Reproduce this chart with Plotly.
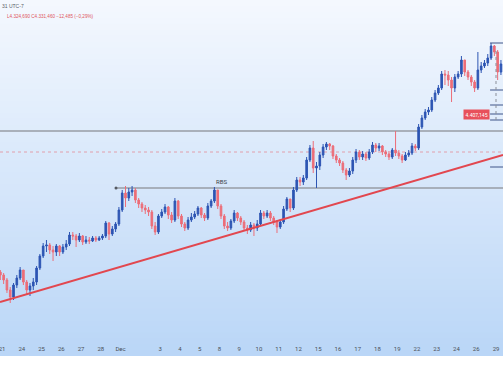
import plotly.graph_objects as go

# ---- data (XAUUSD, 4h candles) ----
day_labels = ["21", "24", "25", "26", "27", "28", "Dec", "3", "4", "5", "8", "9", "10",
              "11", "12", "15", "16", "17", "18", "19", "22", "23", "24", "26", "29"]
day_ticks = [0, 1, 2, 3, 4, 5, 6, 8, 9, 10, 11, 12, 13, 14, 15, 16, 17, 18, 19, 20,
             21, 22, 23, 24, 25]
candles_per_day = 6
first_candle = -1          # one candle of the previous session is visible at left

first_open = 4092
close = [4086,
         4076, 4056, 4042, 4066, 4080, 4096,
         4072, 4056, 4064, 4072, 4100, 4124,
         4144, 4146, 4136, 4132, 4144, 4132,
         4142, 4148, 4166, 4164, 4156, 4164,
         4152, 4156, 4154, 4160, 4156, 4160,
         4164, 4190, 4168, 4178, 4188, 4216,
         4250, 4240, 4252, 4256, 4236, 4228,
         4220, 4216, 4212, 4184, 4172, 4204,
         4212, 4222, 4206, 4196, 4234, 4204,
         4188, 4180, 4196, 4202, 4208, 4220,
         4206, 4200, 4224, 4234, 4256, 4224,
         4204, 4184, 4180, 4194, 4210, 4200,
         4192, 4180, 4176, 4186, 4180, 4188,
         4210, 4204, 4210, 4200, 4192, 4182,
         4192, 4218, 4238, 4220, 4256, 4276,
         4272, 4280, 4316, 4340, 4300, 4304,
         4326, 4342, 4348, 4344, 4324, 4316,
         4310, 4296, 4286, 4294, 4316, 4332,
         4322, 4328, 4320, 4332, 4346, 4340,
         4344, 4332, 4328, 4322, 4336, 4330,
         4324, 4316, 4326, 4330, 4344, 4340,
         4382, 4400, 4412, 4416, 4436, 4450,
         4460, 4488, 4486, 4476, 4460, 4482,
         4488, 4516, 4492, 4482, 4472, 4460,
         4496, 4504, 4510, 4520, 4544, 4532,
         4492, 4508]
high = [4096,
        4090, 4080, 4062, 4070, 4086, 4102,
        4096, 4076, 4070, 4080, 4104, 4128,
        4150, 4156, 4150, 4144, 4148, 4146,
        4148, 4156, 4172, 4172, 4168, 4170,
        4166, 4164, 4162, 4164, 4164, 4164,
        4168, 4194, 4192, 4184, 4192, 4222,
        4256, 4264, 4260, 4264, 4260, 4240,
        4232, 4226, 4222, 4216, 4192, 4208,
        4218, 4228, 4224, 4212, 4240, 4236,
        4208, 4192, 4202, 4210, 4214, 4224,
        4222, 4210, 4230, 4238, 4262, 4256,
        4228, 4208, 4192, 4198, 4216, 4212,
        4204, 4196, 4186, 4192, 4190, 4196,
        4216, 4214, 4216, 4214, 4204, 4196,
        4198, 4224, 4242, 4238, 4262, 4282,
        4282, 4286, 4322, 4346, 4354, 4312,
        4332, 4348, 4352, 4350, 4346, 4328,
        4320, 4314, 4300, 4300, 4322, 4338,
        4336, 4334, 4332, 4338, 4352, 4350,
        4350, 4346, 4336, 4334, 4340, 4374,
        4336, 4328, 4332, 4336, 4350, 4348,
        4388, 4406, 4418, 4422, 4442, 4456,
        4466, 4494, 4496, 4494, 4482, 4488,
        4494, 4524, 4516, 4496, 4486, 4476,
        4532, 4512, 4516, 4528, 4550, 4546,
        4536, 4516]
low = [4076,
       4068, 4050, 4030, 4036, 4060, 4076,
       4066, 4048, 4044, 4056, 4066, 4096,
       4120, 4132, 4128, 4114, 4124, 4124,
       4128, 4136, 4144, 4156, 4142, 4152,
       4146, 4148, 4148, 4152, 4152, 4154,
       4156, 4160, 4156, 4164, 4172, 4184,
       4212, 4222, 4234, 4244, 4230, 4220,
       4212, 4208, 4204, 4178, 4166, 4168,
       4200, 4208, 4198, 4190, 4192, 4198,
       4182, 4174, 4176, 4192, 4198, 4204,
       4200, 4194, 4196, 4220, 4230, 4218,
       4198, 4178, 4174, 4176, 4190, 4194,
       4186, 4174, 4168, 4172, 4164, 4174,
       4184, 4198, 4200, 4194, 4186, 4170,
       4178, 4188, 4214, 4212, 4216, 4252,
       4264, 4266, 4276, 4312, 4290, 4260,
       4296, 4320, 4336, 4336, 4318, 4310,
       4304, 4290, 4276, 4282, 4288, 4310,
       4316, 4316, 4314, 4316, 4328, 4332,
       4334, 4326, 4322, 4316, 4318, 4324,
       4318, 4310, 4314, 4322, 4326, 4334,
       4336, 4378, 4396, 4406, 4412, 4432,
       4446, 4456, 4466, 4464, 4432, 4452,
       4478, 4482, 4484, 4476, 4464, 4452,
       4456, 4490, 4500, 4504, 4516, 4524,
       4476, 4486]

resistance_level = 4374
last_price = 4332
rbs_level = 4260
rbs_start_day = 5.77
trend_start = (-0.101, 4032)
trend_end = (25.354, 4326)
marker_levels = [4550, 4456, 4426, 4408, 4396, 4302]
marker_label_price = 4407
marker_label_text = "4.407,145"
header_line1 = "31 UTC-7"
header_line2 = "L4.324,690 C4.331,460 \u221212,485 (\u22120,29%)"

# ---- derived ----
opens = [first_open] + close[:-1]
xs = [(k + 0.5) / candles_per_day for k in range(first_candle, first_candle + len(close))]

X_RANGE = [-0.101, 25.354]
Y_RANGE = [3956, 4636]
PLOT_H = 340

fig = go.Figure()
fig.add_trace(go.Candlestick(
    x=xs, open=opens, high=high, low=low, close=close,
    increasing=dict(line=dict(color="#2d55b3", width=1), fillcolor="#2d55b3"),
    decreasing=dict(line=dict(color="#ec6d78", width=1), fillcolor="#ec6d78"),
    whiskerwidth=0, hoverinfo="skip", showlegend=False,
))

shapes = []
# background gradient (plot area + time-axis strip); stacked bands, no seams
top = (244, 248, 254)
bot = (186, 214, 247)
n_bands = 60
bottom_px = 356
for i in range(n_bands):
    p0 = bottom_px * i / n_bands
    t = (i + 0.5) / n_bands
    c = tuple(round(top[j] + (bot[j] - top[j]) * t) for j in range(3))
    shapes.append(dict(type="rect", xref="paper", yref="paper", x0=-0.01, x1=1.01,
                       y0=(PLOT_H - bottom_px) / PLOT_H, y1=(PLOT_H - p0) / PLOT_H,
                       fillcolor="rgb(%d,%d,%d)" % c, line=dict(width=0), layer="below"))

shapes.append(dict(type="line", xref="x", yref="y", x0=X_RANGE[0], x1=X_RANGE[1],
                   y0=resistance_level, y1=resistance_level,
                   line=dict(color="#979ca5", width=1.5), layer="below"))
shapes.append(dict(type="line", xref="x", yref="y", x0=X_RANGE[0], x1=X_RANGE[1],
                   y0=last_price, y1=last_price,
                   line=dict(color="rgba(230,110,120,0.6)", width=1, dash="dot"), layer="below"))
shapes.append(dict(type="line", xref="x", yref="y", x0=rbs_start_day, x1=X_RANGE[1],
                   y0=rbs_level, y1=rbs_level,
                   line=dict(color="#979ca5", width=1.5), layer="below"))
shapes.append(dict(type="line", xref="x", yref="y", x0=trend_start[0], x1=trend_end[0],
                   y0=trend_start[1], y1=trend_end[1],
                   line=dict(color="#e2474f", width=2)))
for lv in marker_levels:
    shapes.append(dict(type="line", xref="x", yref="y", x0=24.7, x1=X_RANGE[1],
                       y0=lv, y1=lv, line=dict(color="#3e5488", width=1)))
shapes.append(dict(type="line", xref="x", yref="y", x0=25.0, x1=25.0,
                   y0=4396, y1=4540, line=dict(color="#8a8f99", width=1, dash="dot")))

fig.add_trace(go.Scatter(x=[rbs_start_day], y=[rbs_level], mode="markers",
                         marker=dict(color="#555a62", size=3), hoverinfo="skip",
                         showlegend=False))

annotations = [
    dict(text="RBS", x=11.1, y=rbs_level, xref="x", yref="y", yanchor="bottom",
         showarrow=False, font=dict(family="Roboto", size=6, color="#3a3f48"), yshift=1),
    dict(text=marker_label_text, x=23.99, y=marker_label_price, xref="x", yref="y",
         showarrow=False, bgcolor="#e8505b", borderpad=1.5,
         font=dict(family="Roboto", size=5, color="white")),
    dict(text=header_line1, x=0, y=1 - 1 / PLOT_H, xref="paper", yref="paper",
         xanchor="left", yanchor="top", showarrow=False,
         font=dict(family="Liberation Sans", size=5, color="#5a5f68")),
    dict(text=header_line2, x=5 / 503, y=1 - 12 / PLOT_H, xref="paper", yref="paper",
         xanchor="left", yanchor="top", showarrow=False,
         font=dict(family="Liberation Sans", size=4.6, color="#e05561")),
]

fig.update_layout(
    width=503, height=378,
    margin=dict(l=0, r=0, t=0, b=378 - PLOT_H),
    paper_bgcolor="white", plot_bgcolor="rgba(0,0,0,0)",
    shapes=shapes, annotations=annotations,
    xaxis=dict(range=X_RANGE, tickvals=day_ticks, ticktext=day_labels,
               showgrid=False, zeroline=False, showline=False,
               ticks="outside", ticklen=3, tickcolor="rgba(0,0,0,0)",
               ticklabeloverflow="allow",
               tickfont=dict(family="Roboto", size=6, color="#4a4f58"),
               rangeslider=dict(visible=False), fixedrange=True),
    yaxis=dict(range=Y_RANGE, visible=False, showgrid=False, fixedrange=True),
    showlegend=False,
)

fig.write_html("out.html")
